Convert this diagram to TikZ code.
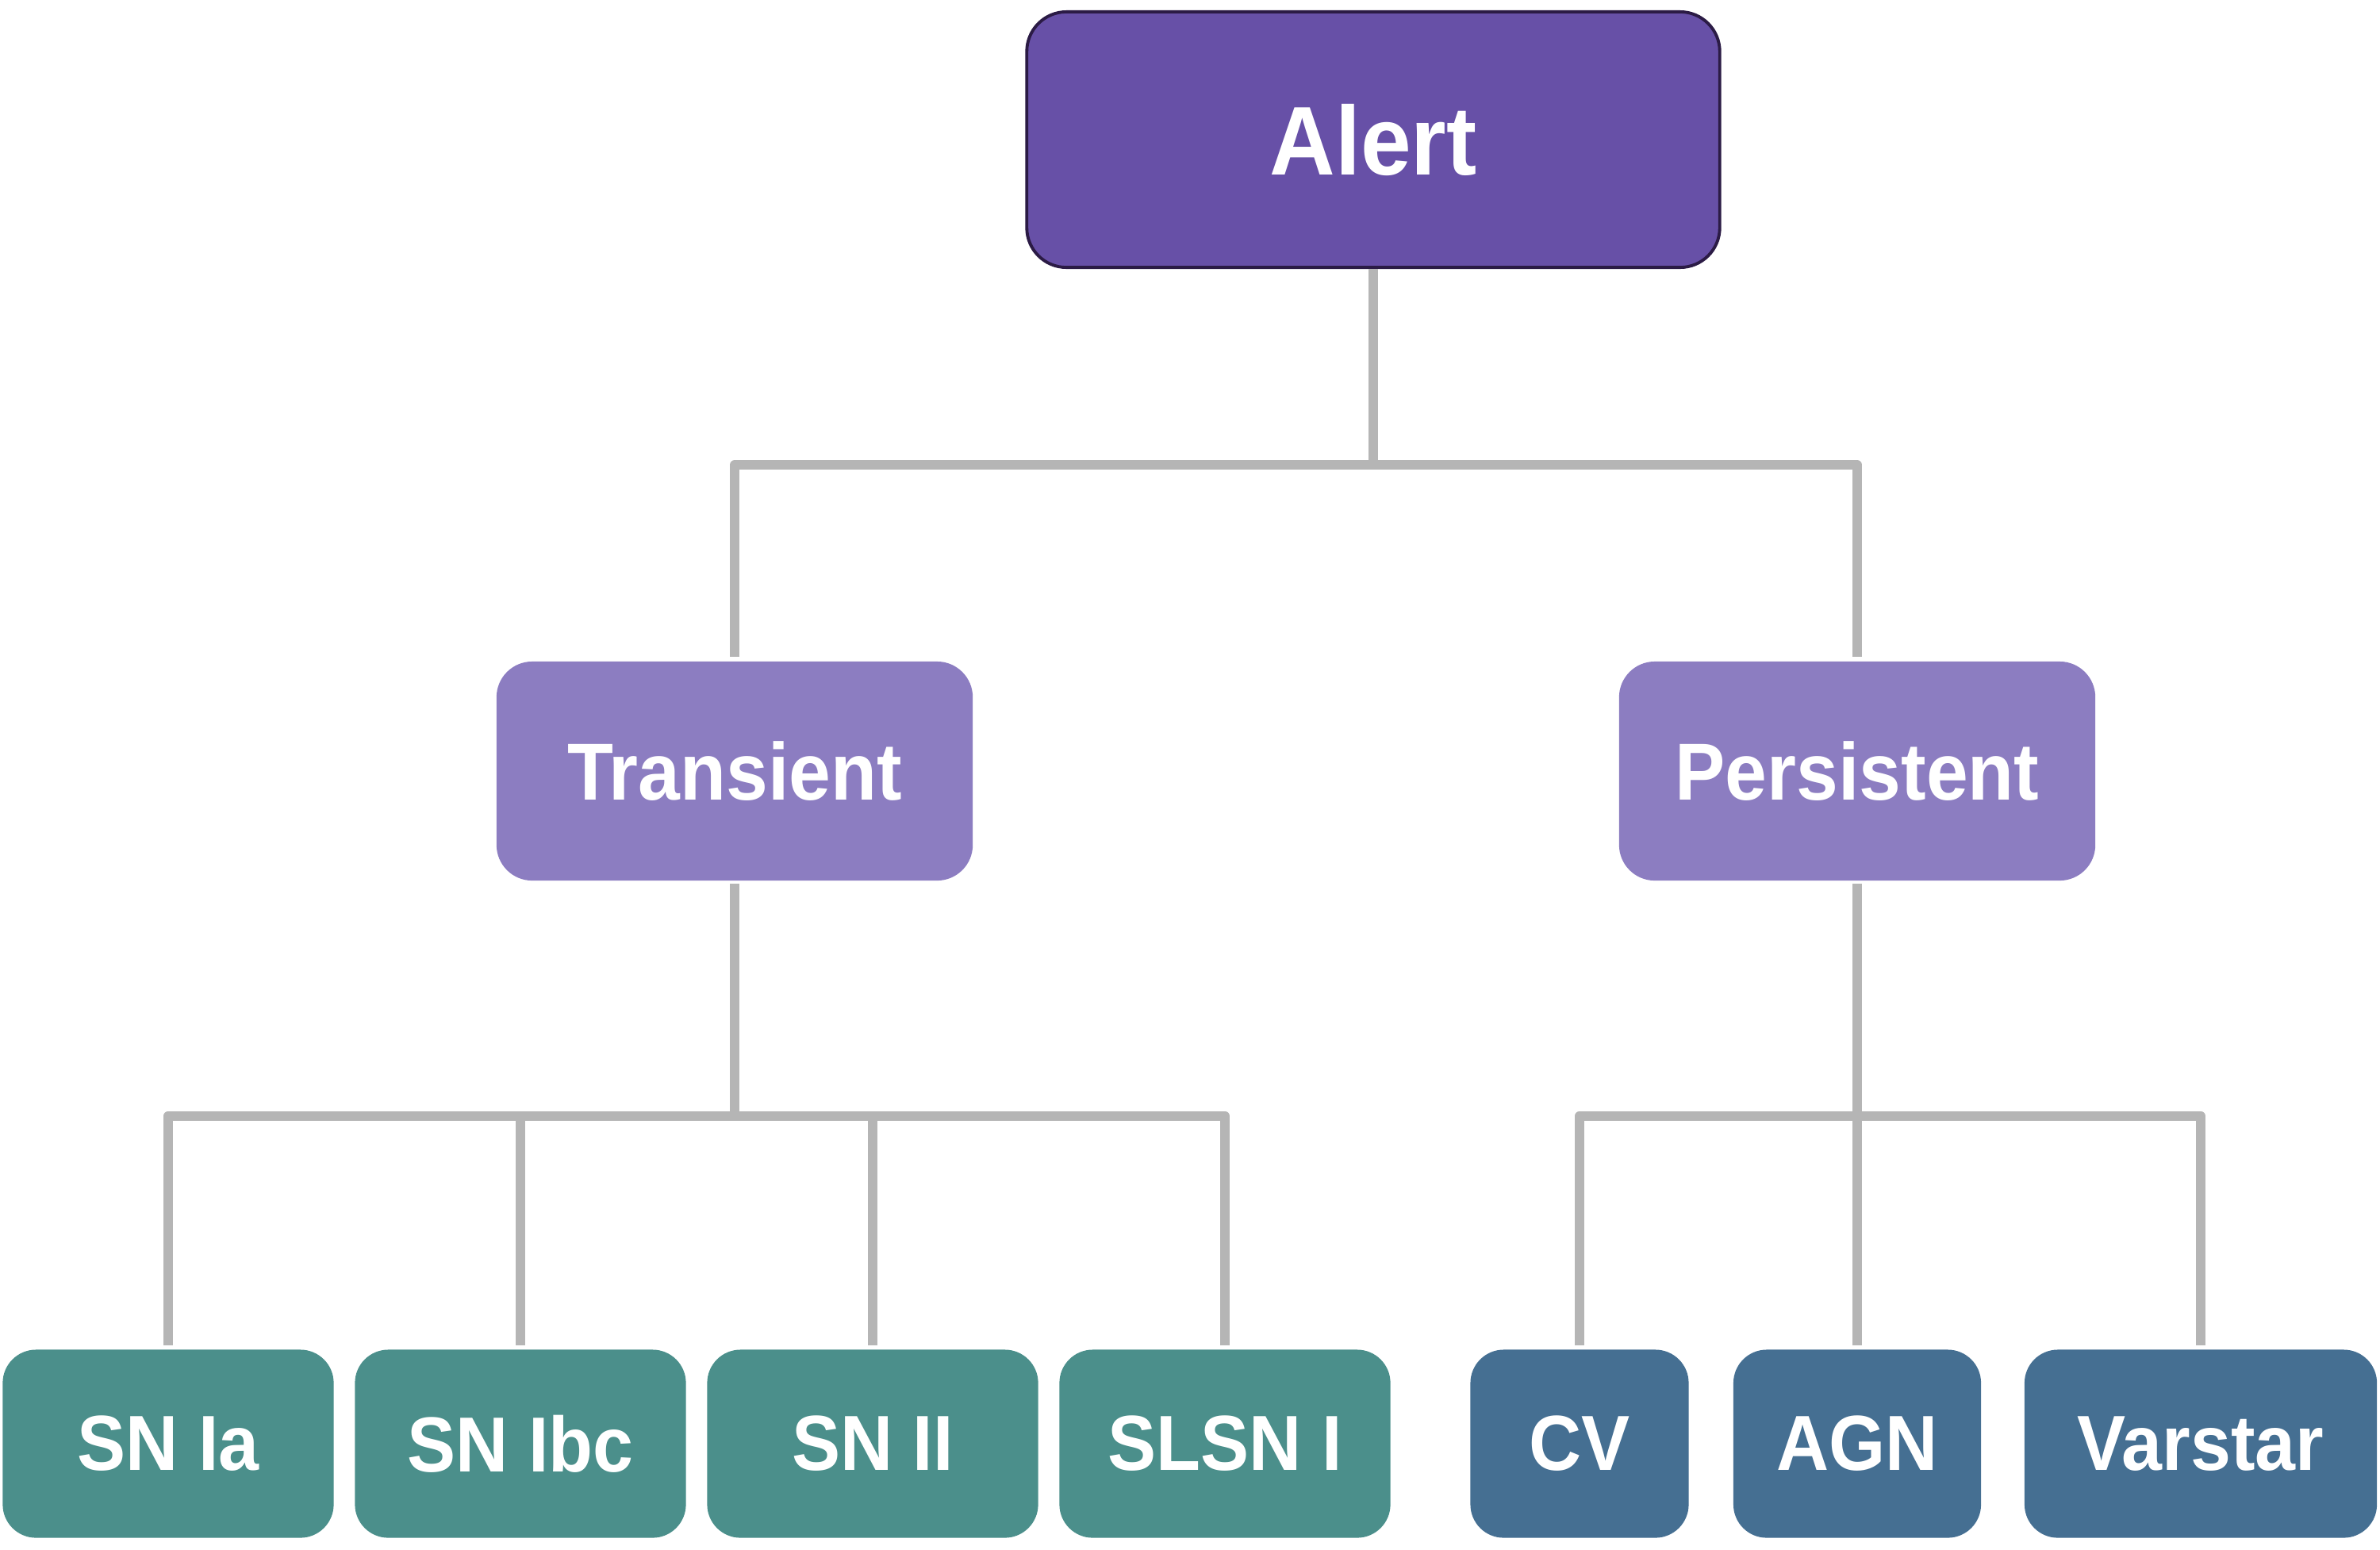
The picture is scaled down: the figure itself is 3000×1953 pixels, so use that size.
\documentclass[tikz,border=0pt]{standalone}
\usepackage{fontspec}
\setmainfont{Liberation Sans}[FakeStretch=0.93]
\definecolor{alertfill}{HTML}{6750A7}
\definecolor{alertline}{HTML}{2B1B45}
\definecolor{midfill}{HTML}{8C7DC1}
\definecolor{snfill}{HTML}{4B8F8B}
\definecolor{persfill}{HTML}{456F92}
\definecolor{linkgray}{HTML}{B5B5B5}

\begin{document}
\begin{tikzpicture}[x=0.01cm, y=-0.01cm,
    box/.style={rectangle, inner sep=0pt, text=white, font=\bfseries},
    alertbox/.style={box, fill=alertfill, draw=alertline, line width=1.1pt,
        rounded corners=0.5cm, minimum width=8.73cm, minimum height=3.22cm,
        font=\bfseries\fontsize{35}{40}\selectfont},
    midbox/.style={box, fill=midfill, rounded corners=0.45cm,
        minimum width=6cm, minimum height=2.76cm,
        font=\bfseries\fontsize{29}{34}\selectfont},
    leafbox/.style={box, rounded corners=0.42cm, minimum height=2.37cm,
        font=\bfseries\fontsize{28}{33}\selectfont},
    snbox/.style={leafbox, fill=snfill, minimum width=4.17cm},
    varbox/.style={leafbox, fill=persfill},
    link/.style={draw=linkgray, line width=3.4pt, line join=round,
        shorten >=0.05cm}]
    \useasboundingbox (0,0) rectangle (3000,1953);

    % 最上段
    \node[alertbox] (alert) at (1731,176) {Alert};

    % 中段
    \node[midbox] (trans) at (926,972) {Transient};
    \node[midbox] (pers) at (2341,972) {Persistent};

    % 下段 (過渡天体)
    \node[snbox] (snia) at (212,1820) {SN Ia};
    \node[snbox] (snibc) at (656,1820) {SN Ibc};
    \node[snbox] (snii) at (1100,1820) {SN II};
    \node[snbox] (slsn) at (1544,1820) {SLSN I};

    % 下段 (定常天体)
    \node[varbox, minimum width=2.75cm] (cv) at (1991,1820) {CV};
    \node[varbox, minimum width=3.12cm] (agn) at (2341,1820) {AGN};
    \node[varbox, minimum width=4.44cm] (varstar) at (2774,1820) {Varstar};

    % 接続線
    \draw[link, shorten >=0pt] (alert.south) -- ++(0,247) coordinate (abar);
    \draw[link] (abar) -| (trans.north);
    \draw[link] (abar) -| (pers.north);

    \draw[link, shorten >=0pt, shorten <=0.03cm] (trans.south) -- ++(0,296) coordinate (tbar);
    \foreach \leaf in {snia, snibc, snii, slsn}
        \draw[link] (tbar) -| (\leaf.north);

    \draw[link, shorten >=0pt, shorten <=0.03cm] (pers.south) -- ++(0,296) coordinate (pbar);
    \foreach \leaf in {cv, agn, varstar}
        \draw[link] (pbar) -| (\leaf.north);
\end{tikzpicture}
\end{document}
